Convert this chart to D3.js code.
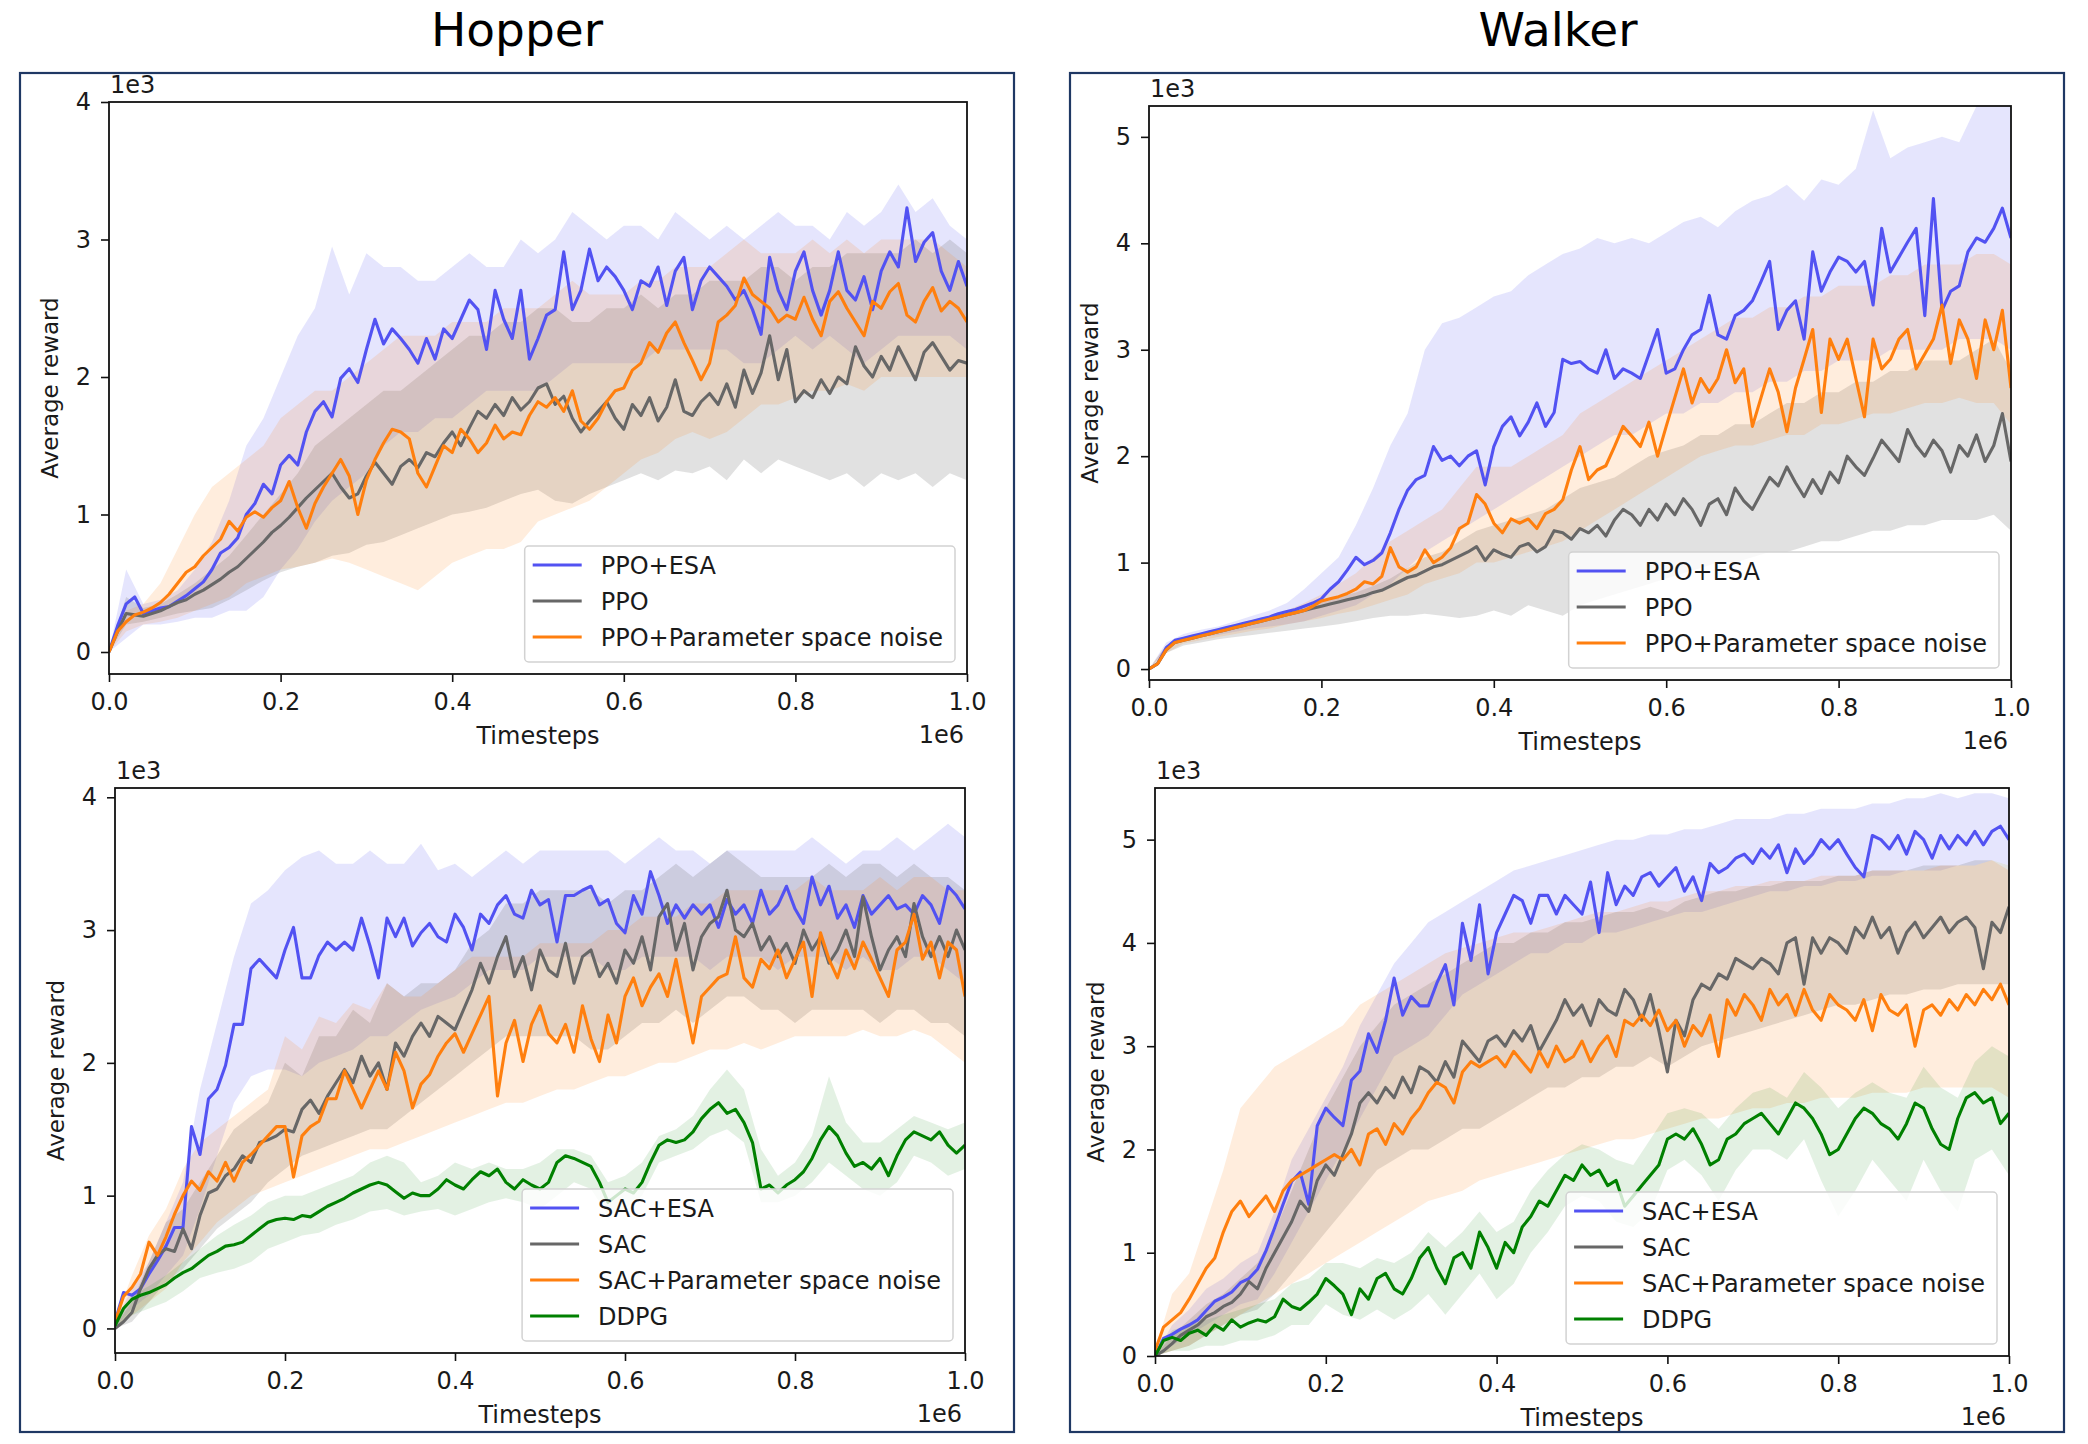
<!DOCTYPE html>
<html>
<head>
<meta charset="utf-8">
<script src="https://cdn.jsdelivr.net/npm/d3@7"></script>
<style>
  html, body { margin: 0; padding: 0; background: #fff; }
  svg text { font-family: "DejaVu Sans", sans-serif; fill: #1a1a1a; }
  svg text.title { fill: #000; }
</style>
</head>
<body>
<svg id="chart" width="2088" height="1444"></svg>
<script>
// Timesteps (x 1e6): mean curves every 0.01, bands every 0.02
const meanSteps = d3.range(101).map(i => i / 100);
const bandSteps = d3.range(51).map(i => i / 50);
const xTicks = [0, 0.2, 0.4, 0.6, 0.8, 1.0];

// ---- Hopper, PPO family (values x 1e3) ----
const hopperPpoEsa = [0, 0.19, 0.35, 0.40, 0.28, 0.30, 0.32, 0.33, 0.37, 0.41,
  0.46, 0.51, 0.60, 0.72, 0.76, 0.83, 1.00, 1.08, 1.22, 1.15,
  1.36, 1.43, 1.36, 1.60, 1.75, 1.82, 1.71, 1.99, 2.06, 1.96,
  2.20, 2.42, 2.24, 2.35, 2.28, 2.20, 2.10, 2.28, 2.13, 2.35,
  2.28, 2.42, 2.56, 2.49, 2.20, 2.63, 2.42, 2.28, 2.63, 2.13,
  2.28, 2.45, 2.49, 2.91, 2.49, 2.63, 2.93, 2.70, 2.80, 2.73,
  2.63, 2.49, 2.70, 2.66, 2.80, 2.52, 2.77, 2.87, 2.49, 2.70,
  2.80, 2.73, 2.66, 2.56, 2.63, 2.49, 2.31, 2.87, 2.63, 2.49,
  2.77, 2.91, 2.63, 2.45, 2.63, 2.91, 2.63, 2.56, 2.73, 2.49,
  2.77, 2.91, 2.80, 3.23, 2.84, 2.98, 3.05, 2.77, 2.63, 2.84, 2.66];
const hopperPpo = [0, 0.15, 0.28, 0.27, 0.26, 0.28, 0.30, 0.33, 0.36, 0.38,
  0.42, 0.45, 0.49, 0.53, 0.58, 0.62, 0.68, 0.74, 0.80, 0.87,
  0.92, 0.98, 1.05, 1.12, 1.18, 1.24, 1.30, 1.20, 1.12, 1.15,
  1.28, 1.38, 1.30, 1.22, 1.35, 1.40, 1.34, 1.45, 1.42, 1.52,
  1.60, 1.50, 1.63, 1.75, 1.70, 1.80, 1.72, 1.85, 1.76, 1.82,
  1.92, 1.95, 1.80, 1.86, 1.70, 1.60, 1.68, 1.75, 1.82, 1.70,
  1.62, 1.80, 1.72, 1.85, 1.68, 1.78, 1.98, 1.75, 1.72, 1.82,
  1.88, 1.80, 1.95, 1.78, 2.05, 1.88, 2.03, 2.30, 1.98, 2.20,
  1.82, 1.90, 1.85, 1.98, 1.88, 2.00, 1.95, 2.22, 2.08, 2.00,
  2.15, 2.05, 2.22, 2.10, 1.98, 2.18, 2.25, 2.15, 2.05, 2.12, 2.10];
const hopperPpoPsn = [0, 0.15, 0.22, 0.27, 0.29, 0.32, 0.36, 0.42, 0.50, 0.58,
  0.62, 0.70, 0.76, 0.82, 0.95, 0.88, 0.98, 1.02, 0.98, 1.05,
  1.10, 1.24, 1.05, 0.90, 1.08, 1.20, 1.30, 1.40, 1.28, 1.00,
  1.25, 1.40, 1.52, 1.62, 1.60, 1.55, 1.30, 1.20, 1.35, 1.50,
  1.45, 1.62, 1.55, 1.45, 1.52, 1.65, 1.55, 1.60, 1.58, 1.72,
  1.82, 1.78, 1.85, 1.75, 1.90, 1.68, 1.62, 1.70, 1.82, 1.90,
  1.92, 2.05, 2.10, 2.25, 2.18, 2.32, 2.40, 2.25, 2.12, 1.98,
  2.10, 2.40, 2.45, 2.52, 2.72, 2.60, 2.55, 2.50, 2.40, 2.45,
  2.42, 2.58, 2.42, 2.30, 2.55, 2.62, 2.50, 2.40, 2.30, 2.55,
  2.50, 2.62, 2.68, 2.45, 2.40, 2.55, 2.65, 2.48, 2.55, 2.50, 2.40];
const hopperPpoEsaHi = [0, 0.60, 0.35, 0.38, 0.45, 0.60, 0.80, 1.10, 1.50, 1.70, 2.00, 2.30, 2.50, 2.95, 2.60, 2.90, 2.80, 2.80, 2.70, 2.70, 2.80, 2.90, 2.80, 2.80, 3.00, 2.90, 3.00, 3.20, 3.10, 3.00, 3.10, 3.10, 3.00, 3.20, 3.10, 3.00, 3.10, 3.00, 3.10, 3.20, 3.10, 3.10, 3.00, 3.20, 3.10, 3.20, 3.40, 3.20, 3.30, 3.10, 3.00];
const hopperPpoEsaLo = [0, 0.10, 0.20, 0.20, 0.22, 0.25, 0.25, 0.30, 0.30, 0.40, 0.60, 0.75, 0.95, 1.10, 1.20, 1.30, 1.50, 1.60, 1.60, 1.70, 1.70, 1.80, 1.90, 1.90, 1.90, 1.90, 2.00, 2.10, 2.10, 2.10, 2.10, 2.10, 2.20, 2.20, 2.20, 2.20, 2.20, 2.10, 2.10, 2.20, 2.30, 2.20, 2.30, 2.20, 2.10, 2.20, 2.30, 2.30, 2.30, 2.30, 2.20];
const hopperPpoHi = [0, 0.40, 0.32, 0.35, 0.42, 0.50, 0.60, 0.70, 0.85, 1.00, 1.15, 1.30, 1.50, 1.60, 1.70, 1.80, 1.90, 1.90, 2.00, 2.10, 2.20, 2.30, 2.30, 2.40, 2.40, 2.50, 2.50, 2.40, 2.40, 2.50, 2.50, 2.60, 2.50, 2.60, 2.60, 2.70, 2.70, 2.70, 2.80, 2.80, 2.70, 2.80, 2.80, 2.90, 2.90, 2.90, 2.90, 3.00, 2.90, 3.00, 2.90];
const hopperPpoLo = [0, 0.20, 0.22, 0.25, 0.28, 0.30, 0.32, 0.38, 0.45, 0.52, 0.58, 0.62, 0.65, 0.70, 0.72, 0.78, 0.80, 0.85, 0.90, 0.95, 1.00, 1.02, 1.05, 1.10, 1.15, 1.18, 1.10, 1.08, 1.15, 1.20, 1.25, 1.30, 1.25, 1.32, 1.30, 1.35, 1.25, 1.40, 1.30, 1.40, 1.35, 1.30, 1.25, 1.30, 1.20, 1.30, 1.25, 1.30, 1.20, 1.30, 1.25];
const hopperPpoPsnHi = [0, 0.30, 0.35, 0.50, 0.75, 1.00, 1.20, 1.30, 1.40, 1.50, 1.70, 1.80, 1.90, 1.90, 2.00, 2.10, 2.20, 2.30, 2.30, 2.30, 2.40, 2.40, 2.40, 2.50, 2.50, 2.50, 2.60, 2.70, 2.60, 2.60, 2.60, 2.70, 2.70, 2.80, 2.80, 2.80, 2.90, 3.00, 2.90, 2.90, 2.90, 3.00, 2.90, 3.00, 2.90, 3.00, 3.00, 3.00, 3.00, 2.90, 2.80];
const hopperPpoPsnLo = [0, 0.15, 0.20, 0.22, 0.25, 0.30, 0.35, 0.40, 0.50, 0.55, 0.60, 0.62, 0.65, 0.68, 0.65, 0.60, 0.55, 0.50, 0.45, 0.55, 0.65, 0.70, 0.75, 0.75, 0.80, 0.95, 1.00, 1.05, 1.10, 1.20, 1.30, 1.40, 1.45, 1.55, 1.60, 1.55, 1.60, 1.70, 1.80, 1.80, 1.85, 1.90, 1.90, 1.95, 1.90, 2.00, 2.00, 2.00, 2.00, 2.00, 2.00];

// ---- Walker, PPO family ----
const walkerPpoEsa = [0, 0.05, 0.20, 0.27, 0.29, 0.31, 0.33, 0.35, 0.37, 0.39,
  0.41, 0.43, 0.45, 0.47, 0.49, 0.52, 0.54, 0.56, 0.59, 0.62,
  0.66, 0.75, 0.82, 0.93, 1.05, 0.98, 1.02, 1.09, 1.28, 1.50,
  1.68, 1.78, 1.82, 2.09, 1.96, 2.00, 1.91, 2.00, 2.05, 1.73,
  2.09, 2.28, 2.37, 2.19, 2.32, 2.50, 2.28, 2.41, 2.91, 2.87,
  2.89, 2.82, 2.78, 3.00, 2.73, 2.82, 2.78, 2.73, 2.96, 3.19,
  2.78, 2.82, 3.00, 3.14, 3.19, 3.51, 3.14, 3.10, 3.32, 3.37,
  3.46, 3.64, 3.83, 3.19, 3.37, 3.46, 3.10, 3.92, 3.55, 3.73,
  3.87, 3.83, 3.73, 3.83, 3.42, 4.14, 3.73, 3.87, 4.01, 4.14,
  3.32, 4.42, 3.37, 3.55, 3.60, 3.92, 4.05, 4.01, 4.14, 4.33, 4.05];
const walkerPpo = [0, 0.05, 0.18, 0.25, 0.27, 0.29, 0.31, 0.33, 0.35, 0.37,
  0.39, 0.41, 0.43, 0.45, 0.47, 0.49, 0.51, 0.53, 0.55, 0.57,
  0.59, 0.61, 0.63, 0.65, 0.67, 0.69, 0.72, 0.74, 0.78, 0.82,
  0.86, 0.88, 0.92, 0.96, 0.98, 1.02, 1.06, 1.10, 1.15, 1.02,
  1.12, 1.08, 1.05, 1.15, 1.18, 1.10, 1.15, 1.30, 1.28, 1.22,
  1.32, 1.28, 1.35, 1.25, 1.40, 1.50, 1.45, 1.35, 1.50, 1.40,
  1.55, 1.45, 1.60, 1.50, 1.35, 1.55, 1.60, 1.45, 1.70, 1.58,
  1.50, 1.65, 1.80, 1.72, 1.90, 1.75, 1.62, 1.78, 1.65, 1.85,
  1.75, 2.00, 1.90, 1.82, 1.98, 2.15, 2.05, 1.95, 2.25, 2.10,
  2.00, 2.15, 2.05, 1.85, 2.10, 2.00, 2.20, 1.95, 2.10, 2.40, 1.95];
const walkerPpoPsn = [0, 0.05, 0.18, 0.25, 0.27, 0.29, 0.31, 0.33, 0.35, 0.37,
  0.39, 0.41, 0.43, 0.45, 0.47, 0.49, 0.51, 0.53, 0.55, 0.59,
  0.64, 0.66, 0.68, 0.71, 0.75, 0.82, 0.80, 0.87, 1.14, 0.96,
  0.91, 0.96, 1.12, 1.00, 1.05, 1.14, 1.32, 1.37, 1.64, 1.55,
  1.37, 1.28, 1.41, 1.37, 1.41, 1.32, 1.46, 1.50, 1.59, 1.87,
  2.09, 1.78, 1.87, 1.91, 2.09, 2.28, 2.19, 2.09, 2.32, 2.00,
  2.28, 2.55, 2.82, 2.50, 2.73, 2.60, 2.73, 3.00, 2.69, 2.82,
  2.28, 2.55, 2.82, 2.60, 2.23, 2.64, 2.91, 3.19, 2.41, 3.10,
  2.91, 3.10, 2.73, 2.37, 3.10, 2.82, 2.91, 3.10, 3.19, 2.82,
  2.96, 3.10, 3.42, 2.87, 3.28, 3.10, 2.73, 3.28, 3.00, 3.37, 2.64];
const walkerPpoEsaHi = [0, 0.25, 0.33, 0.37, 0.40, 0.45, 0.50, 0.55, 0.62, 0.75, 0.90, 1.05, 1.35, 1.70, 2.10, 2.40, 3.00, 3.25, 3.30, 3.40, 3.50, 3.55, 3.70, 3.80, 3.90, 3.95, 4.05, 4.00, 4.05, 4.00, 4.10, 4.20, 4.25, 4.15, 4.30, 4.40, 4.45, 4.55, 4.40, 4.60, 4.55, 4.70, 5.25, 4.80, 4.90, 4.95, 5.00, 4.95, 5.29, 5.29, 5.29];
const walkerPpoEsaLo = [0, 0.20, 0.28, 0.30, 0.32, 0.35, 0.38, 0.40, 0.42, 0.45, 0.50, 0.55, 0.60, 0.70, 0.80, 0.95, 1.10, 1.20, 1.30, 1.40, 1.50, 1.60, 1.70, 1.80, 1.90, 2.00, 2.10, 2.20, 2.20, 2.30, 2.40, 2.40, 2.50, 2.50, 2.60, 2.60, 2.70, 2.70, 2.80, 2.80, 2.90, 2.90, 2.90, 3.00, 3.00, 3.00, 3.00, 3.10, 3.10, 3.10, 3.00];
const walkerPpoHi = [0, 0.22, 0.30, 0.33, 0.37, 0.41, 0.45, 0.49, 0.53, 0.58, 0.63, 0.68, 0.72, 0.78, 0.85, 0.95, 1.05, 1.10, 1.20, 1.30, 1.35, 1.40, 1.45, 1.50, 1.60, 1.70, 1.75, 1.80, 1.90, 2.00, 2.05, 2.10, 2.20, 2.20, 2.30, 2.30, 2.40, 2.50, 2.50, 2.60, 2.60, 2.70, 2.70, 2.80, 2.80, 2.90, 2.90, 2.90, 3.00, 3.10, 2.80];
const walkerPpoLo = [0, 0.15, 0.22, 0.25, 0.28, 0.30, 0.32, 0.34, 0.36, 0.38, 0.40, 0.42, 0.45, 0.48, 0.50, 0.50, 0.52, 0.50, 0.48, 0.50, 0.55, 0.50, 0.60, 0.55, 0.50, 0.60, 0.65, 0.70, 0.75, 0.80, 0.85, 0.90, 0.95, 1.00, 1.00, 1.05, 1.10, 1.10, 1.15, 1.20, 1.20, 1.25, 1.30, 1.30, 1.35, 1.35, 1.40, 1.40, 1.40, 1.45, 1.30];
const walkerPpoPsnHi = [0, 0.22, 0.30, 0.34, 0.38, 0.42, 0.46, 0.50, 0.55, 0.62, 0.70, 0.80, 0.90, 1.05, 1.20, 1.30, 1.40, 1.50, 1.70, 1.90, 1.90, 1.90, 2.00, 2.10, 2.20, 2.40, 2.50, 2.60, 2.70, 2.80, 2.90, 3.00, 3.10, 3.20, 3.30, 3.30, 3.40, 3.40, 3.50, 3.50, 3.60, 3.60, 3.60, 3.70, 3.70, 3.80, 3.80, 3.80, 3.90, 3.90, 3.80];
const walkerPpoPsnLo = [0, 0.15, 0.24, 0.27, 0.30, 0.33, 0.36, 0.38, 0.42, 0.45, 0.48, 0.52, 0.55, 0.60, 0.65, 0.70, 0.80, 0.85, 0.90, 1.00, 1.00, 1.05, 1.10, 1.15, 1.20, 1.30, 1.40, 1.50, 1.60, 1.70, 1.80, 1.90, 2.00, 2.05, 2.10, 2.10, 2.15, 2.20, 2.20, 2.30, 2.30, 2.35, 2.40, 2.40, 2.45, 2.50, 2.50, 2.55, 2.50, 2.50, 2.30];

// ---- Hopper, SAC family ----
const hopperSacEsa = [0.05, 0.27, 0.25, 0.30, 0.41, 0.51, 0.62, 0.76, 0.76, 1.52,
  1.31, 1.73, 1.80, 1.98, 2.29, 2.29, 2.71, 2.78, 2.71, 2.64,
  2.85, 3.02, 2.64, 2.64, 2.81, 2.91, 2.85, 2.91, 2.85, 3.09,
  2.88, 2.64, 3.09, 2.95, 3.09, 2.88, 2.98, 3.05, 2.95, 2.91,
  3.12, 3.02, 2.85, 3.12, 3.05, 3.19, 3.26, 3.12, 3.09, 3.30,
  3.19, 3.23, 2.91, 3.26, 3.26, 3.30, 3.33, 3.19, 3.23, 3.05,
  2.98, 3.26, 3.12, 3.44, 3.26, 3.05, 3.19, 3.09, 3.19, 3.12,
  3.19, 3.02, 3.23, 3.12, 3.19, 3.05, 3.30, 3.12, 3.19, 3.33,
  3.16, 3.05, 3.40, 3.19, 3.33, 3.09, 3.19, 3.02, 3.26, 3.12,
  3.19, 3.26, 3.16, 3.19, 3.12, 3.26, 3.19, 3.05, 3.33, 3.26, 3.16];
const hopperSac = [0, 0.05, 0.12, 0.30, 0.45, 0.55, 0.60, 0.58, 0.75, 0.60,
  0.85, 1.02, 1.05, 1.15, 1.20, 1.30, 1.25, 1.40, 1.42, 1.45,
  1.50, 1.48, 1.65, 1.72, 1.62, 1.75, 1.85, 1.95, 1.85, 2.05,
  1.90, 2.00, 1.80, 2.15, 2.05, 2.20, 2.30, 2.20, 2.35, 2.30,
  2.25, 2.40, 2.55, 2.75, 2.60, 2.80, 2.95, 2.65, 2.80, 2.55,
  2.85, 2.70, 2.65, 2.90, 2.60, 2.80, 2.85, 2.65, 2.75, 2.60,
  2.85, 2.75, 2.95, 2.70, 3.10, 3.20, 2.85, 3.05, 2.70, 2.95,
  3.05, 3.10, 3.30, 3.00, 2.95, 3.05, 2.85, 2.95, 2.80, 2.90,
  2.75, 3.00, 2.85, 2.95, 2.75, 2.85, 3.00, 2.80, 3.25, 2.95,
  2.70, 2.85, 2.95, 2.80, 3.20, 2.95, 2.80, 2.95, 2.80, 3.00, 2.85];
const hopperSacPsn = [0.05, 0.24, 0.31, 0.41, 0.65, 0.55, 0.69, 0.86, 1.00, 1.11,
  1.04, 1.18, 1.11, 1.25, 1.11, 1.25, 1.31, 1.38, 1.45, 1.52,
  1.52, 1.14, 1.45, 1.52, 1.56, 1.73, 1.73, 1.94, 1.80, 1.66,
  1.80, 1.94, 1.80, 2.08, 1.94, 1.66, 1.84, 1.91, 2.05, 2.15,
  2.22, 2.08, 2.22, 2.36, 2.50, 1.75, 2.15, 2.32, 2.01, 2.29,
  2.43, 2.22, 2.15, 2.29, 2.08, 2.43, 2.18, 2.01, 2.36, 2.15,
  2.50, 2.64, 2.43, 2.57, 2.67, 2.50, 2.78, 2.46, 2.15, 2.50,
  2.57, 2.64, 2.67, 2.95, 2.64, 2.57, 2.78, 2.71, 2.85, 2.64,
  2.78, 2.91, 2.50, 2.98, 2.78, 2.64, 2.85, 2.71, 2.91, 2.78,
  2.64, 2.50, 2.85, 2.91, 3.12, 2.78, 2.91, 2.64, 2.91, 2.85, 2.50];
const hopperDdpg = [0.02, 0.15, 0.22, 0.25, 0.27, 0.30, 0.33, 0.38, 0.42, 0.45,
  0.50, 0.55, 0.58, 0.62, 0.63, 0.65, 0.70, 0.75, 0.80, 0.82,
  0.83, 0.82, 0.85, 0.84, 0.88, 0.92, 0.95, 0.98, 1.02, 1.05,
  1.08, 1.10, 1.08, 1.03, 0.98, 1.02, 1.00, 1.00, 1.05, 1.12,
  1.08, 1.05, 1.12, 1.18, 1.15, 1.20, 1.10, 1.05, 1.12, 1.08,
  1.05, 1.10, 1.25, 1.30, 1.28, 1.25, 1.22, 1.10, 0.95, 1.00,
  1.05, 1.02, 1.10, 1.25, 1.38, 1.42, 1.40, 1.42, 1.48, 1.58,
  1.65, 1.70, 1.62, 1.65, 1.55, 1.40, 1.05, 1.08, 1.02, 1.08,
  1.12, 1.18, 1.28, 1.42, 1.52, 1.45, 1.32, 1.22, 1.25, 1.20,
  1.28, 1.15, 1.30, 1.42, 1.48, 1.45, 1.42, 1.48, 1.38, 1.32, 1.38];
const hopperSacEsaHi = [0.05, 0.30, 0.50, 0.80, 1.10, 1.80, 2.30, 2.80, 3.20, 3.30, 3.45, 3.55, 3.60, 3.50, 3.50, 3.60, 3.50, 3.50, 3.65, 3.45, 3.50, 3.40, 3.50, 3.60, 3.50, 3.60, 3.60, 3.60, 3.60, 3.60, 3.50, 3.60, 3.70, 3.60, 3.60, 3.50, 3.60, 3.60, 3.60, 3.60, 3.60, 3.70, 3.60, 3.50, 3.60, 3.60, 3.70, 3.60, 3.70, 3.80, 3.70];
const hopperSacEsaLo = [0, 0.15, 0.25, 0.40, 0.55, 0.90, 1.30, 1.70, 1.90, 1.95, 1.95, 1.90, 2.00, 2.05, 2.10, 2.20, 2.20, 2.30, 2.40, 2.45, 2.50, 2.60, 2.70, 2.70, 2.70, 2.80, 2.80, 2.80, 2.80, 2.70, 2.70, 2.80, 2.80, 2.80, 2.80, 2.70, 2.80, 2.80, 2.80, 2.70, 2.80, 2.80, 2.80, 2.70, 2.80, 2.70, 2.70, 2.80, 2.80, 2.70, 2.60];
const hopperSacHi = [0.02, 0.20, 0.50, 0.80, 0.90, 1.10, 1.30, 1.50, 1.60, 1.70, 2.00, 1.90, 2.20, 2.20, 2.40, 2.30, 2.60, 2.50, 2.60, 2.60, 2.70, 2.90, 3.00, 3.20, 3.20, 3.30, 3.30, 3.30, 3.30, 3.20, 3.30, 3.30, 3.40, 3.50, 3.40, 3.50, 3.60, 3.50, 3.40, 3.40, 3.40, 3.40, 3.50, 3.40, 3.50, 3.50, 3.40, 3.50, 3.40, 3.40, 3.30];
const hopperSacLo = [0, 0.05, 0.20, 0.35, 0.45, 0.60, 0.75, 0.85, 0.95, 1.10, 1.20, 1.30, 1.35, 1.40, 1.45, 1.50, 1.50, 1.60, 1.70, 1.80, 1.90, 2.00, 2.10, 2.20, 2.20, 2.20, 2.20, 2.20, 2.10, 2.10, 2.20, 2.30, 2.30, 2.40, 2.30, 2.40, 2.50, 2.50, 2.40, 2.40, 2.30, 2.40, 2.40, 2.40, 2.40, 2.30, 2.40, 2.40, 2.30, 2.30, 2.20];
const hopperSacPsnHi = [0.05, 0.40, 0.70, 0.90, 1.20, 1.40, 1.50, 1.60, 1.70, 1.80, 2.20, 2.10, 2.35, 2.30, 2.45, 2.40, 2.60, 2.50, 2.50, 2.60, 2.70, 2.80, 2.80, 2.80, 2.80, 2.90, 2.90, 2.90, 2.90, 3.00, 3.00, 3.10, 3.10, 3.10, 3.20, 3.20, 3.30, 3.30, 3.30, 3.30, 3.30, 3.40, 3.30, 3.30, 3.30, 3.40, 3.30, 3.40, 3.40, 3.30, 3.30];
const hopperSacPsnLo = [0, 0.10, 0.20, 0.30, 0.50, 0.65, 0.80, 0.90, 1.00, 1.05, 1.10, 1.15, 1.20, 1.25, 1.30, 1.35, 1.35, 1.40, 1.45, 1.50, 1.55, 1.60, 1.65, 1.70, 1.70, 1.75, 1.80, 1.80, 1.85, 1.90, 1.90, 1.95, 2.00, 2.00, 2.05, 2.10, 2.10, 2.15, 2.10, 2.15, 2.20, 2.20, 2.20, 2.20, 2.25, 2.20, 2.20, 2.25, 2.20, 2.10, 2.00];
const hopperDdpgHi = [0.05, 0.25, 0.32, 0.40, 0.50, 0.60, 0.70, 0.78, 0.85, 0.95, 1.00, 1.00, 1.05, 1.10, 1.15, 1.25, 1.30, 1.25, 1.10, 1.15, 1.25, 1.20, 1.25, 1.20, 1.20, 1.25, 1.35, 1.35, 1.30, 1.10, 1.15, 1.25, 1.45, 1.50, 1.60, 1.80, 1.95, 1.80, 1.35, 1.15, 1.25, 1.45, 1.90, 1.55, 1.40, 1.40, 1.50, 1.60, 1.55, 1.50, 1.55];
const hopperDdpgLo = [0, 0.10, 0.15, 0.20, 0.28, 0.38, 0.42, 0.45, 0.50, 0.60, 0.65, 0.70, 0.72, 0.78, 0.82, 0.88, 0.90, 0.85, 0.88, 0.90, 0.85, 0.90, 0.95, 0.98, 0.95, 0.90, 1.00, 1.10, 1.05, 0.85, 0.90, 1.00, 1.25, 1.30, 1.35, 1.45, 1.50, 1.40, 0.95, 0.95, 1.00, 1.10, 1.25, 1.15, 1.05, 1.00, 1.10, 1.30, 1.25, 1.15, 1.20];

// ---- Walker, SAC family ----
const walkerSacEsa = [0, 0.17, 0.21, 0.26, 0.30, 0.35, 0.44, 0.53, 0.57, 0.62,
  0.71, 0.75, 0.84, 1.02, 1.24, 1.47, 1.69, 1.78, 1.47, 2.23,
  2.40, 2.31, 2.23, 2.67, 2.76, 3.12, 2.94, 3.25, 3.66, 3.30,
  3.48, 3.39, 3.39, 3.61, 3.79, 3.40, 4.19, 3.83, 4.37, 3.70,
  4.10, 4.28, 4.46, 4.41, 4.19, 4.46, 4.46, 4.28, 4.46, 4.37,
  4.28, 4.59, 4.10, 4.68, 4.37, 4.55, 4.46, 4.64, 4.68, 4.55,
  4.64, 4.73, 4.50, 4.64, 4.41, 4.77, 4.68, 4.73, 4.82, 4.86,
  4.77, 4.91, 4.82, 4.95, 4.68, 4.91, 4.77, 4.86, 5.00, 4.91,
  5.00, 4.86, 4.73, 4.64, 5.04, 5.00, 4.91, 5.04, 4.86, 5.08,
  5.00, 4.82, 5.04, 4.91, 5.04, 4.95, 5.08, 4.95, 5.08, 5.13, 5.00];
const walkerSac = [0, 0.05, 0.12, 0.20, 0.25, 0.30, 0.38, 0.42, 0.48, 0.52,
  0.60, 0.72, 0.65, 0.85, 1.00, 1.15, 1.30, 1.50, 1.40, 1.70,
  1.85, 1.75, 1.95, 2.15, 2.45, 2.55, 2.45, 2.60, 2.50, 2.70,
  2.55, 2.80, 2.75, 2.65, 2.85, 2.70, 3.05, 2.95, 2.85, 3.05,
  3.10, 3.00, 3.15, 3.05, 3.20, 2.95, 3.10, 3.25, 3.45, 3.30,
  3.40, 3.20, 3.45, 3.35, 3.30, 3.55, 3.45, 3.25, 3.50, 3.15,
  2.75, 3.25, 3.10, 3.45, 3.60, 3.55, 3.70, 3.65, 3.85, 3.80,
  3.75, 3.85, 3.80, 3.70, 4.00, 4.05, 3.60, 4.05, 3.90, 4.05,
  4.00, 3.90, 4.15, 4.05, 4.25, 4.05, 4.15, 3.90, 4.10, 4.20,
  4.05, 4.15, 4.25, 4.10, 4.20, 4.25, 4.15, 3.75, 4.20, 4.10, 4.35];
const walkerSacPsn = [0.05, 0.28, 0.35, 0.42, 0.55, 0.70, 0.85, 0.95, 1.20, 1.40,
  1.50, 1.35, 1.45, 1.55, 1.40, 1.60, 1.70, 1.75, 1.80, 1.85,
  1.90, 1.95, 1.90, 2.00, 1.85, 2.15, 2.20, 2.05, 2.25, 2.15,
  2.30, 2.40, 2.55, 2.65, 2.60, 2.45, 2.75, 2.85, 2.80, 2.85,
  2.90, 2.80, 2.95, 2.85, 2.75, 2.95, 2.80, 3.00, 2.85, 2.90,
  3.05, 2.85, 3.00, 3.10, 2.90, 3.25, 3.20, 3.30, 3.20, 3.35,
  3.15, 3.25, 3.00, 3.20, 3.10, 3.30, 2.90, 3.45, 3.30, 3.50,
  3.40, 3.25, 3.55, 3.40, 3.50, 3.30, 3.55, 3.35, 3.25, 3.50,
  3.40, 3.35, 3.25, 3.45, 3.15, 3.50, 3.35, 3.30, 3.40, 3.00,
  3.35, 3.40, 3.30, 3.45, 3.35, 3.50, 3.40, 3.55, 3.45, 3.60, 3.40];
const walkerDdpg = [0, 0.15, 0.18, 0.15, 0.22, 0.25, 0.20, 0.30, 0.25, 0.35,
  0.28, 0.32, 0.35, 0.33, 0.38, 0.55, 0.48, 0.45, 0.52, 0.60,
  0.75, 0.68, 0.60, 0.40, 0.65, 0.55, 0.75, 0.80, 0.65, 0.60,
  0.75, 0.95, 1.05, 0.85, 0.70, 0.95, 1.00, 0.85, 1.20, 1.05,
  0.85, 1.10, 1.00, 1.25, 1.35, 1.50, 1.45, 1.60, 1.75, 1.70,
  1.85, 1.75, 1.80, 1.65, 1.70, 1.45, 1.55, 1.65, 1.75, 1.85,
  2.10, 2.15, 2.10, 2.20, 2.05, 1.85, 1.90, 2.10, 2.15, 2.25,
  2.30, 2.35, 2.25, 2.15, 2.30, 2.45, 2.40, 2.30, 2.15, 1.95,
  2.00, 2.15, 2.30, 2.40, 2.35, 2.25, 2.20, 2.10, 2.25, 2.45,
  2.40, 2.20, 2.05, 2.00, 2.30, 2.50, 2.55, 2.45, 2.50, 2.25, 2.35];
const walkerSacEsaHi = [0, 0.30, 0.45, 0.65, 0.75, 0.90, 1.00, 1.40, 1.90, 2.20, 2.50, 2.80, 3.20, 3.50, 3.80, 4.00, 4.20, 4.30, 4.40, 4.50, 4.60, 4.70, 4.75, 4.80, 4.85, 4.90, 4.95, 5.00, 5.00, 5.05, 5.05, 5.10, 5.10, 5.15, 5.20, 5.20, 5.20, 5.25, 5.25, 5.30, 5.30, 5.30, 5.35, 5.35, 5.40, 5.40, 5.45, 5.40, 5.45, 5.45, 5.40];
const walkerSacEsaLo = [0, 0.10, 0.20, 0.30, 0.40, 0.50, 0.55, 0.80, 1.10, 1.40, 1.70, 2.00, 2.30, 2.60, 2.90, 3.00, 3.10, 3.30, 3.50, 3.60, 3.70, 3.80, 3.90, 3.90, 4.00, 4.00, 4.10, 4.10, 4.15, 4.20, 4.25, 4.30, 4.30, 4.35, 4.40, 4.45, 4.50, 4.50, 4.55, 4.55, 4.60, 4.60, 4.65, 4.65, 4.70, 4.70, 4.70, 4.75, 4.75, 4.80, 4.75];
const walkerSacHi = [0, 0.20, 0.35, 0.50, 0.60, 0.75, 0.90, 1.20, 1.60, 2.00, 2.40, 2.70, 3.00, 3.20, 3.40, 3.50, 3.60, 3.70, 3.80, 3.90, 4.00, 4.00, 4.10, 4.10, 4.20, 4.20, 4.25, 4.30, 4.30, 4.35, 4.30, 4.40, 4.45, 4.50, 4.50, 4.55, 4.55, 4.60, 4.60, 4.60, 4.65, 4.65, 4.70, 4.70, 4.70, 4.75, 4.75, 4.75, 4.80, 4.80, 4.75];
const walkerSacLo = [0, 0.05, 0.10, 0.20, 0.30, 0.40, 0.45, 0.60, 0.80, 1.00, 1.20, 1.40, 1.60, 1.80, 1.90, 2.00, 2.00, 2.10, 2.20, 2.20, 2.30, 2.40, 2.50, 2.60, 2.60, 2.70, 2.70, 2.80, 2.80, 2.90, 2.80, 2.90, 3.00, 3.05, 3.10, 3.15, 3.20, 3.25, 3.30, 3.35, 3.40, 3.40, 3.45, 3.50, 3.50, 3.55, 3.55, 3.60, 3.60, 3.60, 3.60];
const walkerSacPsnHi = [0.05, 0.60, 0.80, 1.30, 1.80, 2.40, 2.60, 2.80, 2.90, 3.00, 3.10, 3.20, 3.40, 3.50, 3.60, 3.70, 3.80, 3.90, 3.95, 4.00, 4.05, 4.10, 4.10, 4.15, 4.20, 4.25, 4.30, 4.30, 4.35, 4.40, 4.40, 4.45, 4.50, 4.50, 4.55, 4.55, 4.60, 4.60, 4.60, 4.65, 4.65, 4.65, 4.70, 4.70, 4.70, 4.70, 4.75, 4.75, 4.75, 4.80, 4.70];
const walkerSacPsnLo = [0, 0.05, 0.10, 0.20, 0.30, 0.40, 0.50, 0.60, 0.70, 0.80, 0.90, 1.00, 1.10, 1.20, 1.30, 1.40, 1.50, 1.55, 1.60, 1.70, 1.75, 1.80, 1.85, 1.90, 1.95, 2.00, 2.05, 2.10, 2.10, 2.15, 2.20, 2.25, 2.30, 2.30, 2.35, 2.40, 2.40, 2.45, 2.45, 2.50, 2.50, 2.50, 2.55, 2.55, 2.55, 2.60, 2.60, 2.60, 2.60, 2.60, 2.50];
const walkerDdpgHi = [0, 0.25, 0.30, 0.35, 0.40, 0.45, 0.50, 0.55, 0.70, 0.75, 0.90, 0.90, 0.85, 0.95, 0.90, 1.00, 1.20, 1.05, 1.20, 1.40, 1.20, 1.30, 1.60, 1.80, 1.95, 2.05, 2.00, 1.90, 1.85, 2.10, 2.35, 2.40, 2.35, 2.20, 2.40, 2.55, 2.60, 2.50, 2.75, 2.60, 2.40, 2.55, 2.65, 2.55, 2.50, 2.80, 2.60, 2.50, 2.85, 3.00, 2.90];
const walkerDdpgLo = [0, 0.05, 0.05, 0.10, 0.10, 0.15, 0.15, 0.20, 0.30, 0.30, 0.50, 0.40, 0.35, 0.45, 0.35, 0.45, 0.60, 0.40, 0.60, 0.80, 0.55, 0.70, 1.00, 1.20, 1.45, 1.55, 1.50, 1.30, 1.25, 1.40, 1.80, 1.90, 1.75, 1.50, 1.80, 2.00, 2.00, 1.90, 2.10, 1.70, 1.35, 1.60, 1.90, 1.70, 1.50, 1.90, 1.60, 1.40, 1.90, 2.00, 1.75];

// ---- styling ----
const colors = { esa: "#5252f2", base: "#676767", psn: "#ff7f0e", ddpg: "#008000" };
const bandAlpha = { esa: 0.15, base: 0.2, psn: 0.14, ddpg: 0.11 };
const FONT = 24;
const LINE_W = 3.1;

const panels = [
  { x0: 109, x1: 967, y0: 102, y1: 674, yDomain: [-0.16, 4.0], yTicks: [0, 1, 2, 3, 4],
    series: [
      { name: "PPO+ESA", kind: "esa", mean: hopperPpoEsa, lo: hopperPpoEsaLo, hi: hopperPpoEsaHi },
      { name: "PPO", kind: "base", mean: hopperPpo, lo: hopperPpoLo, hi: hopperPpoHi },
      { name: "PPO+Parameter space noise", kind: "psn", mean: hopperPpoPsn, lo: hopperPpoPsnLo, hi: hopperPpoPsnHi }
    ] },
  { x0: 1149, x1: 2011, y0: 106, y1: 680, yDomain: [-0.103, 5.29], yTicks: [0, 1, 2, 3, 4, 5],
    series: [
      { name: "PPO+ESA", kind: "esa", mean: walkerPpoEsa, lo: walkerPpoEsaLo, hi: walkerPpoEsaHi },
      { name: "PPO", kind: "base", mean: walkerPpo, lo: walkerPpoLo, hi: walkerPpoHi },
      { name: "PPO+Parameter space noise", kind: "psn", mean: walkerPpoPsn, lo: walkerPpoPsnLo, hi: walkerPpoPsnHi }
    ] },
  { x0: 115, x1: 965, y0: 788, y1: 1353, yDomain: [-0.185, 4.07], yTicks: [0, 1, 2, 3, 4],
    series: [
      { name: "SAC+ESA", kind: "esa", mean: hopperSacEsa, lo: hopperSacEsaLo, hi: hopperSacEsaHi },
      { name: "SAC", kind: "base", mean: hopperSac, lo: hopperSacLo, hi: hopperSacHi },
      { name: "SAC+Parameter space noise", kind: "psn", mean: hopperSacPsn, lo: hopperSacPsnLo, hi: hopperSacPsnHi },
      { name: "DDPG", kind: "ddpg", mean: hopperDdpg, lo: hopperDdpgLo, hi: hopperDdpgHi }
    ] },
  { x0: 1155, x1: 2009, y0: 788, y1: 1356, yDomain: [0, 5.5], yTicks: [0, 1, 2, 3, 4, 5],
    series: [
      { name: "SAC+ESA", kind: "esa", mean: walkerSacEsa, lo: walkerSacEsaLo, hi: walkerSacEsaHi },
      { name: "SAC", kind: "base", mean: walkerSac, lo: walkerSacLo, hi: walkerSacHi },
      { name: "SAC+Parameter space noise", kind: "psn", mean: walkerSacPsn, lo: walkerSacPsnLo, hi: walkerSacPsnHi },
      { name: "DDPG", kind: "ddpg", mean: walkerDdpg, lo: walkerDdpgLo, hi: walkerDdpgHi }
    ] }
];

const svg = d3.select("#chart");

// outer frames + titles
const frames = [
  { title: "Hopper", x: 20, w: 994, cx: 517 },
  { title: "Walker", x: 1070, w: 994, cx: 1558 }
];
frames.forEach(f => {
  svg.append("rect").attr("x", f.x).attr("y", 73).attr("width", f.w).attr("height", 1359)
    .attr("fill", "none").attr("stroke", "#1f3864").attr("stroke-width", 2.2);
  svg.append("text").attr("class", "title").attr("x", f.cx).attr("y", 46)
    .attr("text-anchor", "middle").style("font-size", "47px").text(f.title);
});

panels.forEach((p, pi) => {
  const x = d3.scaleLinear().domain([0, 1]).range([p.x0, p.x1]);
  const y = d3.scaleLinear().domain(p.yDomain).range([p.y1, p.y0]);
  const g = svg.append("g");

  const clipId = "clip" + pi;
  svg.append("clipPath").attr("id", clipId).append("rect")
    .attr("x", p.x0).attr("y", p.y0).attr("width", p.x1 - p.x0).attr("height", p.y1 - p.y0);

  const plot = g.append("g").attr("clip-path", `url(#${clipId})`);

  const area = d3.area()
    .x((d, i) => x(bandSteps[i]))
    .y0(d => y(d[0]))
    .y1(d => y(d[1]));
  const line = d3.line()
    .x((d, i) => x(meanSteps[i]))
    .y(d => y(d));

  p.series.forEach(s => {
    plot.append("path")
      .datum(s.lo.map((v, i) => [v, s.hi[i]]))
      .attr("d", area)
      .attr("fill", colors[s.kind])
      .attr("fill-opacity", bandAlpha[s.kind]);
  });
  p.series.forEach(s => {
    plot.append("path")
      .datum(s.mean)
      .attr("d", line)
      .attr("fill", "none")
      .attr("stroke", colors[s.kind])
      .attr("stroke-width", LINE_W)
      .attr("stroke-linejoin", "round");
  });

  // axes
  const xAxis = g.append("g").attr("transform", `translate(0,${p.y1})`)
    .call(d3.axisBottom(x).tickValues(xTicks).tickFormat(d3.format(".1f")).tickSize(8).tickPadding(11));
  const yAxis = g.append("g").attr("transform", `translate(${p.x0},0)`)
    .call(d3.axisLeft(y).tickValues(p.yTicks).tickFormat(d3.format("d")).tickSize(8).tickPadding(10));
  [xAxis, yAxis].forEach(a => {
    a.select(".domain").remove();
    a.selectAll(".tick line").attr("stroke", "#111").attr("stroke-width", 1.6);
    a.selectAll(".tick text").style("font-size", FONT + "px")
      .style("font-family", "DejaVu Sans").attr("fill", "#1a1a1a");
  });

  // spines
  g.append("rect").attr("x", p.x0).attr("y", p.y0)
    .attr("width", p.x1 - p.x0).attr("height", p.y1 - p.y0)
    .attr("fill", "none").attr("stroke", "#111").attr("stroke-width", 1.8);

  // labels and offset texts
  g.append("text").attr("x", (p.x0 + p.x1) / 2).attr("y", p.y1 + 70)
    .attr("text-anchor", "middle").style("font-size", FONT + "px").text("Timesteps");
  g.append("text").attr("x", p.x1 - 3).attr("y", p.y1 + 69)
    .attr("text-anchor", "end").style("font-size", FONT + "px").text("1e6");
  g.append("text").attr("x", p.x0 + 1).attr("y", p.y0 - 9)
    .style("font-size", FONT + "px").text("1e3");
  g.append("text")
    .attr("transform", `translate(${p.x0 - 59},${(p.y0 + p.y1) / 2}) rotate(-90)`)
    .attr("dy", "0.35em").attr("text-anchor", "middle")
    .style("font-size", (FONT - 1) + "px").text("Average reward");

  // legend (lower right)
  const n = p.series.length;
  const lh = 44 + 36 * (n - 1);
  const lg = g.append("g");
  const box = lg.append("rect").attr("rx", 4).attr("ry", 4)
    .attr("fill", "#fff").attr("fill-opacity", 0.8)
    .attr("stroke", "#d2d2d2").attr("stroke-width", 1.5);
  let maxW = 0;
  p.series.forEach((s, i) => {
    const yy = 19 + 36 * i;
    lg.append("line").attr("x1", 8).attr("x2", 57).attr("y1", yy).attr("y2", yy)
      .attr("stroke", colors[s.kind]).attr("stroke-width", LINE_W);
    const t = lg.append("text").attr("x", 76).attr("y", yy).attr("dy", "0.36em")
      .style("font-size", FONT + "px").text(s.name);
    maxW = Math.max(maxW, t.node().getComputedTextLength());
  });
  const lw = 76 + maxW + 12;
  box.attr("width", lw).attr("height", lh);
  lg.attr("transform", `translate(${p.x1 - 12 - lw},${p.y1 - 12 - lh})`);
});
</script>
</body>
</html>
